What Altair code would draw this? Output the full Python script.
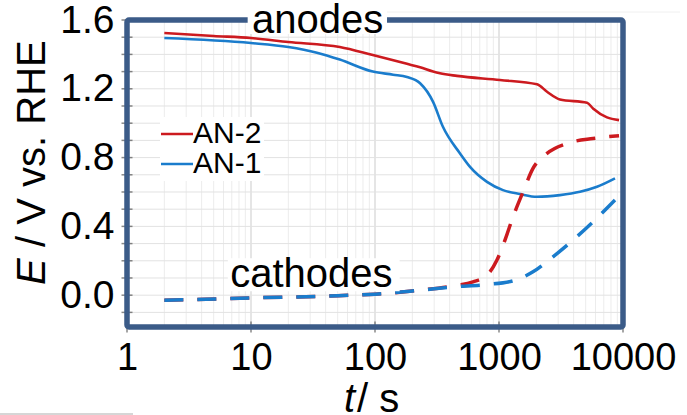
import altair as alt
import pandas as pd

# ---------------- data ----------------
an2_anode_t = [2, 5, 10, 20, 52, 96, 181, 231, 294, 334, 458, 1018, 2025, 2440, 3100, 5130, 5730, 7430, 9290]
an2_anode_E = [1.524, 1.507, 1.495, 1.472, 1.443, 1.396, 1.345, 1.325, 1.300, 1.290, 1.275, 1.251, 1.226,
               1.183, 1.138, 1.119, 1.086, 1.034, 1.018]

an1_anode_t = [2, 10, 20, 34, 52, 96, 140, 181, 231, 294, 353, 485, 584, 800, 1077, 1477, 2025, 3100, 4500, 6170, 8620]
an1_anode_E = [1.495, 1.466, 1.443, 1.410, 1.370, 1.300, 1.282, 1.268, 1.232, 1.124, 0.979, 0.824, 0.746,
               0.659, 0.611, 0.588, 0.572, 0.582, 0.601, 0.630, 0.679]

an2_cathode_t = [2, 10, 50, 100, 231, 426, 617, 800, 963, 1117, 1297, 1563, 1880, 2440, 3535, 5730, 9290]
an2_cathode_E = [-0.030, -0.016, -0.003, 0.006, 0.029, 0.054, 0.077, 0.116, 0.204, 0.320, 0.455, 0.601,
                 0.737, 0.824, 0.882, 0.911, 0.927]

an1_cathode_t = [2, 10, 50, 100, 231, 426, 800, 1297, 1880, 2725, 3950, 5730, 8620]
an1_cathode_E = [-0.030, -0.016, -0.003, 0.006, 0.029, 0.048, 0.062, 0.083, 0.136, 0.223, 0.320, 0.426, 0.553]

series_names = ["AN-2", "AN-1"]
x_ticks = [1, 10, 100, 1000, 10000]
y_ticks = [0.0, 0.4, 0.8, 1.2, 1.6]
x_minor_grid = [m * 10 ** k for k in range(4) for m in range(2, 10)]
x_major_grid = [10, 100, 1000]
y_grid = [round(-0.1 + 0.1 * i, 1) for i in range(17)]        # -0.1 ... 1.5
y_minor_ticks = [round(-0.1 + 0.1 * i, 1) for i in range(18)]  # -0.1 ... 1.6

annot_text = ["anodes", "cathodes"]
annot_t = [10.2, 6.8]
annot_E = [1.524, 0.047]
annot_box_t1 = [9.4, 6.5]
annot_box_t2 = [125, 158]
annot_box_E1 = [1.518, 0.023]
annot_box_E2 = [1.690, 0.215]

# ---------------- styling ----------------
FONT = "Liberation Sans"
RED = "#cc1a1f"
BLUE = "#1a7ccc"
FRAME = "#3b5b88"
W, H = 496, 307

rows = []
for t, e in zip(an2_anode_t, an2_anode_E):
    rows.append({"t": t, "E": e, "series": "AN-2", "kind": "anode"})
for t, e in zip(an1_anode_t, an1_anode_E):
    rows.append({"t": t, "E": e, "series": "AN-1", "kind": "anode"})
for t, e in zip(an2_cathode_t, an2_cathode_E):
    rows.append({"t": t, "E": e, "series": "AN-2", "kind": "cathode"})
for t, e in zip(an1_cathode_t, an1_cathode_E):
    rows.append({"t": t, "E": e, "series": "AN-1", "kind": "cathode"})
df = pd.DataFrame(rows)

x_scale = alt.Scale(type="log", domain=[1, 10000], nice=False)
y_scale = alt.Scale(domain=[-0.185, 1.6], nice=False, zero=False)
color_scale = alt.Scale(domain=series_names, range=[RED, BLUE])

x_axis = alt.Axis(
    values=x_ticks, format="d",
    labelFont=FONT, labelFontSize=38, labelColor="black", labelPadding=12,
    labelFlush=False, labelOverlap=False, labelBound=False,
    domain=False, ticks=False, grid=False, title="",
)
y_axis = alt.Axis(
    values=y_ticks, format=".1f",
    labelFont=FONT, labelFontSize=39, labelColor="black", labelPadding=13,
    labelOverlap=False, labelBound=False,
    domain=False, ticks=False, grid=False, title="",
)

legend = alt.Legend(
    title=None, orient="none", legendX=33, legendY=97, direction="vertical",
    symbolType="M-2,0H2", symbolSize=256, symbolStrokeWidth=2.5,
    labelFont=FONT, labelFontSize=30, labelColor="black", labelOffset=1,
    fillColor="white", padding=2, rowPadding=0,
)

# grid lines
gx_minor = alt.Chart(pd.DataFrame({"t": x_minor_grid})).mark_rule(color="#ececec", strokeWidth=1).encode(
    x=alt.X("t:Q", scale=x_scale, axis=x_axis)
)
gx_major = alt.Chart(pd.DataFrame({"t": x_major_grid})).mark_rule(color="#d4d4d4", strokeWidth=1.2).encode(
    x=alt.X("t:Q", scale=x_scale)
)
gy = alt.Chart(pd.DataFrame({"E": y_grid})).mark_rule(color="#e2e2e2", strokeWidth=1).encode(
    y=alt.Y("E:Q", scale=y_scale, axis=y_axis)
)

base = alt.Chart(df)

solid = base.transform_filter(alt.datum.kind == "anode").mark_line(
    strokeWidth=2.6, interpolate="monotone"
).encode(
    x=alt.X("t:Q", scale=x_scale),
    y=alt.Y("E:Q", scale=y_scale),
    color=alt.Color("series:N", scale=color_scale, legend=legend, sort=series_names),
    detail="series:N",
    order=alt.Order("t:Q"),
)

dashed = base.transform_filter(alt.datum.kind == "cathode").mark_line(
    strokeWidth=3.5, strokeDash=[19, 14], interpolate="monotone"
).encode(
    x=alt.X("t:Q", scale=x_scale),
    y=alt.Y("E:Q", scale=y_scale),
    color=alt.Color("series:N", scale=color_scale, sort=series_names),
    detail="series:N",
    order=alt.Order("t:Q"),
)

# inner ticks on the frame
yticks = alt.Chart(pd.DataFrame({"t": [1] * len(y_minor_ticks), "E": y_minor_ticks})).mark_tick(
    orient="horizontal", size=11, thickness=1.5, color="#555555"
).encode(x=alt.X("t:Q", scale=x_scale), y=alt.Y("E:Q", scale=y_scale))
xticks = alt.Chart(pd.DataFrame({"t": x_ticks, "E": [-0.185] * len(x_ticks)})).mark_tick(
    orient="vertical", size=11, thickness=1.5, color="#555555"
).encode(x=alt.X("t:Q", scale=x_scale), y=alt.Y("E:Q", scale=y_scale))

# frame around the plot area
one = alt.Data(values=[{"a": 1}])
frame = alt.Chart(one).mark_rect(
    fillOpacity=0, stroke=FRAME, strokeWidth=5.5, cornerRadius=2
).encode(x=alt.value(0), x2=alt.value(W), y=alt.value(0), y2=alt.value(H))

# faint scan edges seen in the reference image
edge1 = alt.Chart(one).mark_rule(color="#c8c8c8", strokeWidth=1.5).encode(
    x=alt.value(-127), x2=alt.value(6), y=alt.value(394)
)
edge2 = alt.Chart(one).mark_rule(color="#f0f0f0", strokeWidth=1).encode(
    x=alt.value(213), x2=alt.value(553), y=alt.value(-8)
)

# annotation boxes and texts
box_df = pd.DataFrame({"t1": annot_box_t1, "t2": annot_box_t2, "E1": annot_box_E1, "E2": annot_box_E2})
boxes = alt.Chart(box_df).mark_rect(color="white").encode(
    x=alt.X("t1:Q", scale=x_scale), x2="t2:Q",
    y=alt.Y("E1:Q", scale=y_scale), y2="E2:Q",
)
ann_df = pd.DataFrame({"t": annot_t, "E": annot_E, "label": annot_text})
anns = alt.Chart(ann_df).mark_text(
    font=FONT, fontSize=40, align="left", baseline="alphabetic", color="black"
).encode(
    x=alt.X("t:Q", scale=x_scale), y=alt.Y("E:Q", scale=y_scale), text="label:N"
)

# axis titles with italic symbols
ytitle_E = alt.Chart(one).mark_text(
    font=FONT, fontSize=40, fontStyle="italic", angle=270, align="left", baseline="alphabetic", color="black"
).encode(x=alt.value(-82), y=alt.value(265), text=alt.value("E"))
ytitle_rest = alt.Chart(one).mark_text(
    font=FONT, fontSize=40, angle=270, align="left", baseline="alphabetic", color="black"
).encode(x=alt.value(-82), y=alt.value(227), text=alt.value("/ V vs. RHE"))
xtitle_t = alt.Chart(one).mark_text(
    font=FONT, fontSize=40, fontStyle="italic", align="left", baseline="alphabetic", color="black"
).encode(x=alt.value(217), y=alt.value(392), text=alt.value("t"))
xtitle_rest = alt.Chart(one).mark_text(
    font=FONT, fontSize=40, align="left", baseline="alphabetic", color="black"
).encode(x=alt.value(230), y=alt.value(392), text=alt.value("/ s"))

chart = alt.layer(
    gx_minor, gx_major, gy, solid, dashed, yticks, xticks, frame, edge1, edge2, boxes, anns,
    ytitle_E, ytitle_rest, xtitle_t, xtitle_rest
).properties(
    width=W, height=H,
    autosize=alt.AutoSizeParams(type="none"),
    padding={"left": 127, "top": 20, "right": 64, "bottom": 88},
    background="white",
).configure_view(
    strokeWidth=0,
)

chart.save("out.html", embed_options={"renderer": "svg", "actions": False})
